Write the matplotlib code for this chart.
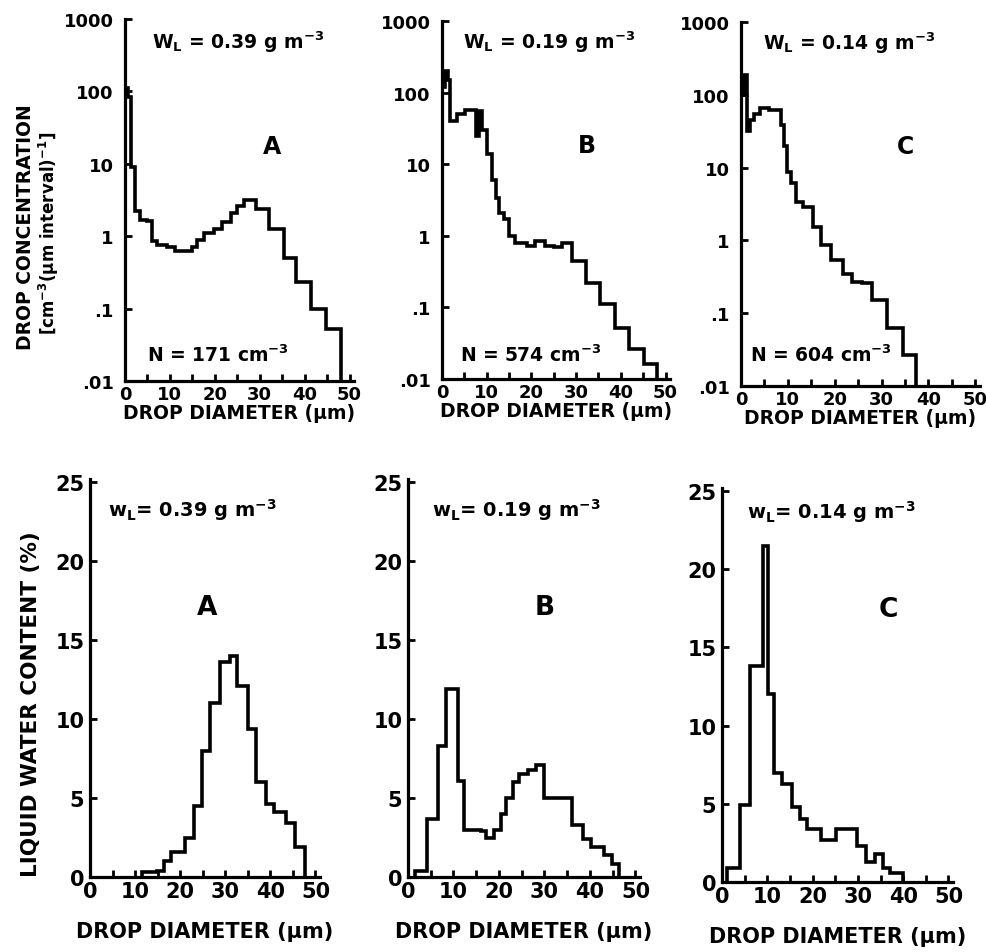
import matplotlib
matplotlib.use('Agg')
import matplotlib.pyplot as plt

W, H = 986, 953

plt.rcParams['font.family'] = ['DejaVu Sans']
plt.rcParams['font.weight'] = 'bold'
plt.rcParams['axes.labelweight'] = 'bold'
plt.rcParams['mathtext.default'] = 'regular'

# ---- drop concentration spectra (cm-3 per um interval) ----
conc_a_edges = [0, 0.7, 1.4, 2.2, 3.3, 4.8, 6.0, 7.1, 9.3, 11.2, 12.5, 14.9, 16.1,
                17.6, 19.8, 21.6, 23.5, 25.0, 26.5, 29.2, 32.1, 35.4, 38.0, 41.4,
                44.8, 48.0]
conc_a = [110, 85, 9, 2.2, 1.7, 1.6, 0.85, 0.75, 0.7, 0.62, 0.63, 0.7, 0.9, 1.1,
          1.25, 1.55, 2.1, 2.6, 3.2, 2.4, 1.25, 0.5, 0.23, 0.1, 0.052]

conc_b_edges = [0, 0.7, 1.4, 1.9, 3.4, 5.2, 7.5, 8.2, 9.0, 10.0, 11.2, 12.0, 12.7,
                13.8, 14.9, 16.4, 19.0, 20.9, 23.1, 25.0, 26.9, 29.1, 32.1, 35.4,
                38.8, 41.8, 45.1, 48.1]
conc_b = [120, 200, 150, 40, 50, 58, 25, 55, 30, 14, 6, 3.4, 2.1, 1.7, 1.0, 0.8,
          0.72, 0.85, 0.72, 0.7, 0.8, 0.45, 0.22, 0.11, 0.052, 0.026, 0.016]

conc_c_edges = [0, 0.6, 1.2, 2.0, 2.7, 4.1, 5.9, 8.5, 9.2, 9.9, 10.6, 11.7, 13.2,
                15.3, 17.1, 19.3, 21.8, 23.6, 25.8, 28.0, 31.2, 34.5, 37.4]
conc_c = [100, 190, 32, 45, 55, 65, 62, 38, 20, 8.8, 6.1, 3.4, 2.9, 1.55, 0.87,
          0.54, 0.35, 0.27, 0.26, 0.15, 0.063, 0.027]

# ---- liquid water content distributions (%) ----
lwc_a_edges = [11.6, 14.9, 16.4, 17.9, 21.1, 23.0, 24.8, 26.6, 28.8, 31.0, 32.7,
               35.0, 36.8, 39.0, 40.8, 43.4, 45.5, 47.7]
lwc_a = [0.3, 0.4, 1.0, 1.6, 2.5, 4.5, 8.0, 11.0, 13.6, 14.0, 12.1, 9.4, 6.0, 4.6,
         4.1, 3.4, 1.9]

lwc_b_edges = [1.6, 4.1, 6.6, 8.4, 11.0, 12.4, 16.0, 17.2, 19.0, 20.4, 21.5, 23.0,
               24.5, 26.3, 28.1, 29.9, 33.6, 36.1, 38.4, 40.2, 43.0, 44.9, 46.4]
lwc_b = [0.4, 3.7, 8.3, 11.9, 6.1, 3.0, 2.9, 2.5, 3.0, 4.0, 5.0, 6.0, 6.5, 6.8,
         7.1, 5.0, 5.0, 3.3, 2.4, 1.9, 1.4, 0.8]

lwc_c_edges = [1.1, 4.0, 6.1, 9.0, 10.1, 11.5, 13.3, 15.5, 17.3, 18.7, 21.9, 25.2,
               29.9, 31.7, 33.8, 35.6, 37.1, 39.9]
lwc_c = [0.9, 4.9, 13.8, 21.5, 12.0, 7.0, 6.3, 4.8, 4.0, 3.4, 2.7, 3.4, 2.3, 1.3,
         1.8, 0.9, 0.6]

letters = ['A', 'B', 'C']
wl_values = ['0.39', '0.19', '0.14']
n_values = ['171', '574', '604']

log_ticks = [0.01, 0.1, 1, 10, 100, 1000]
log_labels = ['.01', '.1', '1', '10', '100', '1000']
lin_ticks = [0, 5, 10, 15, 20, 25]
x_labels = [0, 10, 20, 30, 40, 50]

# pixel boxes: x at 0, x at 51, y top, y bottom
top_boxes = [(125, 354, 20, 382), (442, 670, 22, 380), (741, 980, 23, 387)]
bot_boxes = [(90, 320, 480, 878), (408, 640, 480, 878), (722, 953, 489, 883)]

# annotation anchors in pixels
top_wl_xy = [(152, 42), (463, 42), (763, 43)]
top_letter_xy = [(272, 147), (587, 146), (905, 147)]
top_n_xy = [(147, 355), (460, 355), (750, 355)]
bot_wl_xy = [(108, 510), (432, 510), (747, 512)]
bot_letter_xy = [(207, 608), (545, 608), (888, 610)]


def px(x, y):
    return x / W, 1 - y / H


def add_px_axes(fig, box):
    x0, x1, yt, yb = box
    return fig.add_axes([x0 / W, 1 - yb / H, (x1 - x0) / W, (yb - yt) / H])


def style(ax, fs, ypad):
    for s in ['top', 'right']:
        ax.spines[s].set_visible(False)
    for s in ['left', 'bottom']:
        ax.spines[s].set_linewidth(2.3)
    ax.set_xlim(0, 51)
    ax.set_xticks(x_labels)
    ax.set_xticks(range(5, 50, 10), minor=True)
    ax.tick_params(which='both', direction='in', length=5, width=2,
                   labelsize=fs, pad=3)
    ax.tick_params(axis='y', pad=ypad)
    ax.tick_params(axis='y', which='minor', left=False)


fig = plt.figure(figsize=(W / 100, H / 100), dpi=100)

top_data = [(conc_a_edges, conc_a), (conc_b_edges, conc_b), (conc_c_edges, conc_c)]
for i, (edges, vals) in enumerate(top_data):
    ax = add_px_axes(fig, top_boxes[i])
    ax.set_yscale('log')
    ax.stairs(vals, edges, baseline=0.01, color='black', linewidth=2.6)
    ax.set_ylim(0.01, 1000)
    ax.set_yticks(log_ticks)
    ax.set_yticklabels(log_labels)
    ax.minorticks_off()
    style(ax, 13, 8)
    ax.set_xticks(range(5, 50, 10), minor=True)
    ax.tick_params(axis='x', which='minor', direction='in', length=5, width=2)
    ax.set_xlabel('DROP DIAMETER (µm)', fontsize=13.5, labelpad=0)
    fig.text(*px(*top_wl_xy[i]), 'W$_L$ = %s g m$^{-3}$' % wl_values[i],
             ha='left', va='center', fontsize=13.5)
    fig.text(*px(*top_letter_xy[i]), letters[i], ha='center', va='center',
             fontsize=17)
    fig.text(*px(*top_n_xy[i]), 'N = %s cm$^{-3}$' % n_values[i],
             ha='left', va='center', fontsize=13.5)

bot_data = [(lwc_a_edges, lwc_a), (lwc_b_edges, lwc_b), (lwc_c_edges, lwc_c)]
for i, (edges, vals) in enumerate(bot_data):
    ax = add_px_axes(fig, bot_boxes[i])
    ax.stairs(vals, edges, baseline=0, color='black', linewidth=2.6)
    ax.set_ylim(0, 25.2)
    ax.set_yticks(lin_ticks)
    style(ax, 15, 4)
    ax.set_xlabel('DROP DIAMETER (µm)', fontsize=15, labelpad=14)
    fig.text(*px(*bot_wl_xy[i]), 'w$_L$= %s g m$^{-3}$' % wl_values[i],
             ha='left', va='center', fontsize=14)
    fig.text(*px(*bot_letter_xy[i]), letters[i], ha='center', va='center',
             fontsize=19)

fig.text(*px(26, 227), 'DROP CONCENTRATION', rotation=90,
         ha='center', va='center', fontsize=13.5)
fig.text(*px(49, 233), '[cm$^{-3}$(µm interval)$^{-1}$]', rotation=90,
         ha='center', va='center', fontsize=12)
fig.text(*px(31, 704), 'LIQUID WATER CONTENT (%)', rotation=90,
         ha='center', va='center', fontsize=15.5)

fig.savefig('out.png', dpi=100)
